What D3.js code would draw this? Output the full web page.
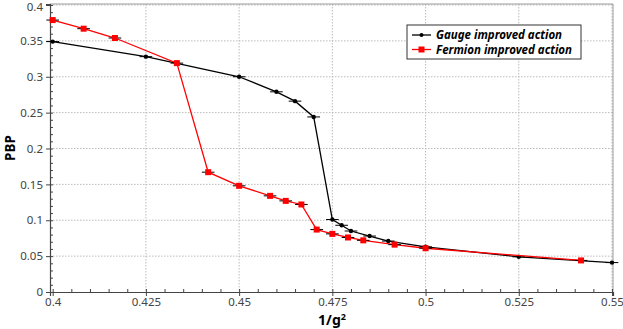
<!DOCTYPE html>
<html lang="en">
<head>
  <meta charset="UTF-8" />
  <title>PBP vs 1/g^2</title>
  <script src="https://d3js.org/d3.v7.min.js"></script>
  <style>
    body { margin: 0; background: #fff; font-family: "Noto Sans", sans-serif; }
    .tick text { font-family: "Noto Sans", sans-serif; font-size: 11.5px; fill: #444; }
    .grid line { stroke: #bbb; stroke-dasharray: 1.5,1.5; }
  </style>
</head>
<body>
  <svg id="chart" width="623" height="329"></svg>
  <script>
    // data
    const gaugeX = [0.400, 0.425, 0.450, 0.460, 0.465, 0.470, 0.475, 0.4775, 0.480, 0.485, 0.490, 0.500, 0.525, 0.550];
    const gaugeY = [0.349, 0.328, 0.300, 0.279, 0.266, 0.244, 0.101, 0.093, 0.085, 0.078, 0.071, 0.063, 0.049, 0.041];

    const fermionX = [0.400, 0.4083, 0.4167, 0.4333, 0.4417, 0.450, 0.4583, 0.4625, 0.4667, 0.4708, 0.475, 0.4792, 0.4833, 0.4917, 0.500, 0.5417];
    const fermionY = [0.379, 0.367, 0.354, 0.319, 0.167, 0.148, 0.134, 0.127, 0.122, 0.087, 0.081, 0.076, 0.072, 0.066, 0.061, 0.044];

    const xTicks = [0.4, 0.425, 0.45, 0.475, 0.5, 0.525, 0.55];
    const yTicks = [0, 0.05, 0.1, 0.15, 0.2, 0.25, 0.3, 0.35, 0.4];
    const seriesNames = ["Gauge improved action", "Fermion improved action"];
    const xErr = 0.0017;

    const svg = d3.select("#chart");
    const pL = 50, pR = 613, pT = 4, pB = 292;

    const x = d3.scaleLinear().domain([0.39928, 0.55027]).range([pL, pR]);
    const y = d3.scaleLinear().domain([0, 0.4014]).range([pB, pT]);

    // grid
    svg.append("g").attr("class", "grid")
      .selectAll("line").data(xTicks.slice(1)).enter().append("line")
      .attr("x1", d => x(d)).attr("x2", d => x(d))
      .attr("y1", pT).attr("y2", pB);
    svg.append("g").attr("class", "grid")
      .selectAll("line").data(yTicks.slice(1)).enter().append("line")
      .attr("x1", pL).attr("x2", pR)
      .attr("y1", d => y(d)).attr("y2", d => y(d));

    // frame (top/right)
    svg.append("path")
      .attr("d", `M${pL},${pT}H${pR}V${pB}`)
      .attr("fill", "none").attr("stroke", "#999").attr("stroke-width", 1);

    // axes
    const xMinor = d3.range(0.4, 0.5501, 0.005);
    const yMinor = d3.range(0, 0.4001, 0.01);

    svg.append("g").attr("transform", `translate(0,${pB})`)
      .call(d3.axisBottom(x).tickValues(xTicks).tickSize(4).tickPadding(2)
        .tickFormat(d => String(+d.toFixed(3))));
    svg.append("g").attr("transform", `translate(0,${pB})`)
      .call(d3.axisBottom(x).tickValues(xMinor).tickSize(-3).tickFormat(""))
      .call(g => g.select(".domain").remove());

    svg.append("g").attr("transform", `translate(${pL},0)`)
      .call(d3.axisLeft(y).tickValues(yTicks).tickSize(4).tickPadding(3)
        .tickFormat(d => String(+d.toFixed(2))))
      .call(g => g.selectAll(".tick text").filter(d => d === 0.4).attr("dy", "0.45em"));
    svg.append("g").attr("transform", `translate(${pL},0)`)
      .call(d3.axisLeft(y).tickValues(yMinor).tickSize(-3).tickFormat(""))
      .call(g => g.select(".domain").remove());

    svg.selectAll(".domain").attr("stroke", "#444").attr("stroke-width", 1.2);
    svg.selectAll(".tick line").attr("stroke", "#444");

    // axis titles
    svg.append("text")
      .attr("transform", `translate(15,${(pT + pB) / 2}) rotate(-90)`)
      .attr("text-anchor", "middle")
      .style("font-family", "Noto Sans, sans-serif")
      .style("font-weight", "bold").style("font-size", "13.5px")
      .text("PBP");
    const xt = svg.append("text")
      .attr("x", 332).attr("y", 325)
      .attr("text-anchor", "middle")
      .style("font-family", "Noto Sans, sans-serif")
      .style("font-weight", "bold").style("font-size", "14px");
    xt.append("tspan").text("1/g");
    xt.append("tspan").attr("dy", -5).style("font-size", "9px").text("2");

    // series
    const line = d3.line().x(d => x(d[0])).y(d => y(d[1]));
    const gauge = d3.zip(gaugeX, gaugeY);
    const fermion = d3.zip(fermionX, fermionY);

    function drawSeries(pts, color, marker) {
      const g = svg.append("g");
      g.append("path").datum(pts).attr("d", line)
        .attr("fill", "none").attr("stroke", color).attr("stroke-width", 1.3);
      g.selectAll(".err").data(pts).enter().append("line")
        .attr("x1", d => x(d[0] - xErr)).attr("x2", d => x(d[0] + xErr))
        .attr("y1", d => y(d[1])).attr("y2", d => y(d[1]))
        .attr("stroke", "#000").attr("stroke-width", 1);
      if (marker === "square") {
        g.selectAll(".m").data(pts).enter().append("rect")
          .attr("x", d => x(d[0]) - 3).attr("y", d => y(d[1]) - 3)
          .attr("width", 6).attr("height", 6).attr("fill", color);
      } else {
        g.selectAll(".m").data(pts).enter().append("circle")
          .attr("cx", d => x(d[0])).attr("cy", d => y(d[1]))
          .attr("r", 2.2).attr("fill", color);
      }
    }
    drawSeries(gauge, "#000", "circle");
    drawSeries(fermion, "#ff0000", "square");

    // legend
    const lg = svg.append("g").attr("transform", "translate(407,25)");
    lg.append("rect").attr("width", 174).attr("height", 34)
      .attr("fill", "#fff").attr("stroke", "#333").attr("stroke-width", 1);
    const colors = ["#000", "#ff0000"];
    seriesNames.forEach((name, i) => {
      const cy = 10 + i * 14.5;
      lg.append("line").attr("x1", 5).attr("x2", 24).attr("y1", cy).attr("y2", cy)
        .attr("stroke", colors[i]).attr("stroke-width", 1.3);
      if (i === 0) {
        lg.append("circle").attr("cx", 14.5).attr("cy", cy).attr("r", 2).attr("fill", colors[i]);
      } else {
        lg.append("rect").attr("x", 11.5).attr("y", cy - 3).attr("width", 6).attr("height", 6).attr("fill", colors[i]);
      }
      lg.append("text").attr("x", 29).attr("y", cy + 4)
        .style("font-family", "Noto Sans, sans-serif")
        .style("font-weight", "bold").style("font-style", "italic").style("font-size", "11.5px")
        .attr("fill", "#000")
        .text(name);
    });
  </script>
</body>
</html>
